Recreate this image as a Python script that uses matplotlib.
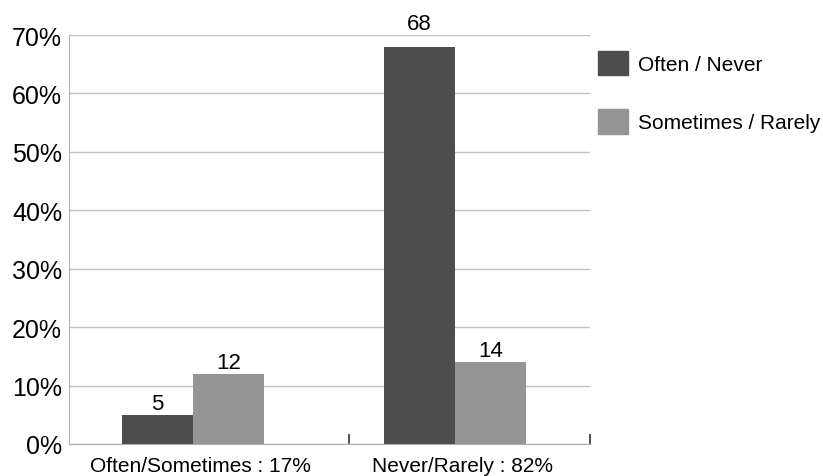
import numpy as np
import matplotlib.pyplot as plt
from matplotlib.patches import Patch

plt.rcParams['font.family'] = ['Liberation Sans', 'DejaVu Sans']

# Data
categories = ['Often/Sometimes : 17%', 'Never/Rarely : 82%']
series_names = ['Often / Never', 'Sometimes / Rarely']
often_never = [5, 68]
sometimes_rarely = [12, 14]
colors = ['#4d4d4d', '#959595']

fig = plt.figure(figsize=(8.23, 4.77), dpi=100)
ax = fig.add_axes([0.0838, 0.0671, 0.6331, 0.8574])

x = np.arange(len(categories))
w = 0.271
ymax = 70
b1 = ax.bar(x - w / 2, often_never, w, color=colors[0], zorder=3)
b2 = ax.bar(x + w / 2, sometimes_rarely, w, color=colors[1], zorder=3)
for bars in (b1, b2):
    for r in bars:
        v = r.get_height()
        # labels near the top get pushed above the plot area
        y = v if v < ymax - 5 else ymax
        ax.annotate(f'{v:g}', (r.get_x() + r.get_width() / 2, y), xytext=(0, 4.5),
                    textcoords='offset points', ha='center', va='baseline',
                    fontsize=16, annotation_clip=False)

ax.set_xlim(-0.473, 1.515)
ax.set_ylim(0, ymax)
ax.set_yticks(np.arange(0, 71, 10))
ax.set_yticklabels([f'{v}%' for v in range(0, 71, 10)], fontsize=18)
ax.tick_params(axis='y', length=0, pad=5)
ax.yaxis.grid(True, color='#c0c0c0', linewidth=1, zorder=0)

# category boundaries get tick marks, labels sit on minor ticks
ax.set_xticks([0.595, 1.515])
ax.set_xticklabels(['', ''])
ax.tick_params(axis='x', which='major', length=7, width=1.2, color='#333333', direction='in')
ax.set_xticks([0.03, 1.03], minor=True)
ax.set_xticklabels(categories, minor=True, fontsize=15)
ax.tick_params(axis='x', which='minor', length=0, pad=9)

for s in ['top', 'right']:
    ax.spines[s].set_visible(False)
ax.spines['left'].set_color('#b0b0b0')
ax.spines['bottom'].set_color('#b0b0b0')

handles = [Patch(color=c) for c in colors]
fig.legend(handles, series_names, loc='upper left', bbox_to_anchor=(0.7266, 0.892),
           frameon=False, fontsize=15, handlelength=1.45, handleheight=1.45,
           labelspacing=1.63, handletextpad=0.45, borderpad=0, borderaxespad=0)

plt.savefig('out.png', dpi=100)
